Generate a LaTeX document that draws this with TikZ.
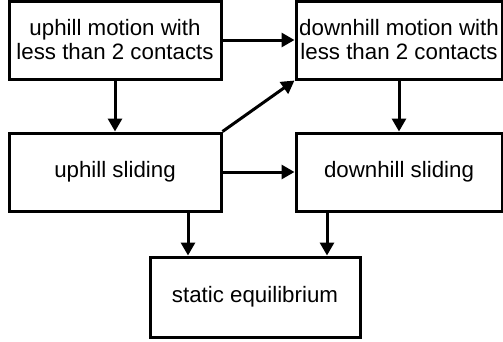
\documentclass[tikz,border=0pt]{standalone}
\usepackage{fontspec}
\setmainfont{Liberation Sans}
\usetikzlibrary{arrows.meta,positioning}

\begin{document}
\begin{tikzpicture}[x=1pt,y=-1pt,>={Triangle[length=13pt,width=14pt]},
  box/.style={draw,line width=3pt,minimum width=212pt,minimum height=78pt,
    inner sep=0pt,align=center,font=\fontsize{22.3}{24}\selectfont},
  link/.style={->,line width=3pt}]
  \useasboundingbox (0,0) rectangle (503,341);
  \node[box] (upmotion) at (115,40) {uphill motion with\\less than 2 contacts};
  \node[box,minimum width=206pt] (downmotion) at (399,40) {downhill motion with\\less than 2 contacts};
  \node[box] (upslide) at (115,172) {uphill sliding};
  \node[box,minimum width=206pt] (downslide) at (399,172) {downhill sliding};
  \node[box,minimum width=210pt,minimum height=80pt] (static) at (255,297) {static equilibrium};
  \coordinate (staticleft) at ([xshift=-67pt]static.north);
  \coordinate (staticright) at ([xshift=72pt]static.north);
  \draw[link] (upmotion) -- (downmotion);
  \draw[link] (upmotion) -- (upslide);
  \draw[link] (upslide.north east) -- (downmotion.south west);
  \draw[link] (downmotion) -- (downslide);
  \draw[link] (upslide) -- (downslide);
  \draw[link] (upslide.south -| staticleft) -- (staticleft);
  \draw[link] (downslide.south -| staticright) -- (staticright);
\end{tikzpicture}
\end{document}
